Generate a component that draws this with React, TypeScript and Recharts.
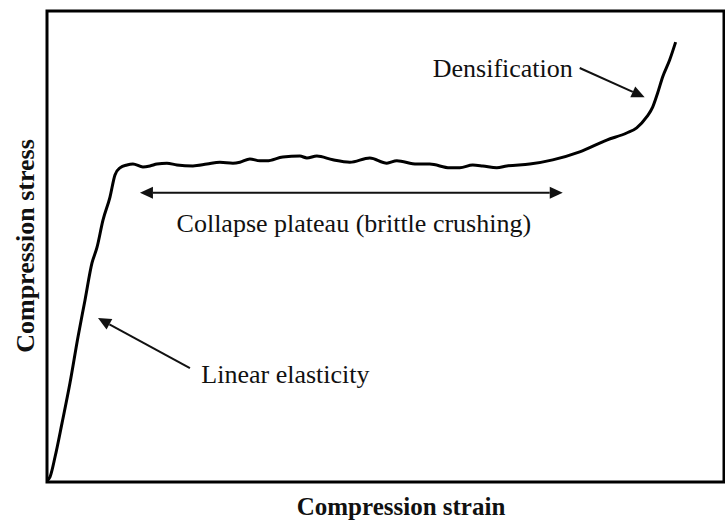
import { LineChart, Line, XAxis, YAxis, ReferenceArea, ReferenceLine, ReferenceDot } from "recharts";

// strain (% of axis) and stress (% of axis)
const strain = [
  0, 0.45, 1.19, 2.23, 3.41, 4.6, 5.64, 6.68, 7.42, 8.31, 9.35, 10.09, 10.83, 11.87, 12.76, 14.24, 15.28,
  16.32, 17.8, 19.29, 21.66, 23.74, 25.67, 27.6, 28.64, 30.12, 31.6, 32.64, 35.01, 37.54, 38.58, 40.06,
  42.43, 44.96, 47.92, 50.45, 51.93, 54.9, 56.82, 59.79, 61.28, 63.2, 64.69, 66.77, 68.25, 71.66, 75.07,
  79.08, 83.09, 86.05, 87.54, 89.02, 89.91, 90.65, 91.39, 92.43, 93.32,
];
const stress = [
  0.3, 1.1, 5.3, 12.5, 21.0, 30.8, 38.6, 46.5, 49.8, 55.6, 60.5, 65.2, 66.7, 67.3, 67.5, 66.9, 67.1,
  67.5, 67.7, 67.3, 67.1, 67.5, 67.9, 67.7, 67.9, 68.6, 68.2, 68.2, 69.0, 69.2, 68.8, 69.2,
  68.4, 67.9, 68.8, 67.7, 68.2, 67.5, 67.5, 66.7, 66.7, 67.3, 67.1, 66.7, 67.1, 67.5, 68.4,
  70.1, 72.6, 74.1, 75.2, 77.5, 79.6, 82.6, 86.0, 89.6, 93.4,
];

// annotation arrows: [tail, tip]
const densArrow = [{ x: 79.08, y: 87.9 }, { x: 88.72, y: 81.7 }];
const plateauArrow = [{ x: 13.8, y: 61.4 }, { x: 76.56, y: 61.4 }];
const elasticArrow = [{ x: 21.22, y: 24.2 }, { x: 7.57, y: 34.8 }];

const annotations = [
  { text: "Densification", x: 67.66, y: 86.0 },
  { text: "Collapse plateau (brittle crushing)", x: 45.55, y: 53.1 },
  { text: "Linear elasticity", x: 35.39, y: 21.0 },
];

const data = strain.map((s, i) => ({ strain: s, stress: stress[i] }));

const serif = "'Liberation Serif', 'Times New Roman', serif";

function makeArrow(both: boolean) {
  return (p: any) => {
    const { x1, y1, x2, y2 } = p;
    const len = 13;
    const half = 6;
    const dx = x2 - x1;
    const dy = y2 - y1;
    const d = Math.hypot(dx, dy) || 1;
    const ux = dx / d;
    const uy = dy / d;
    const head = (tx: number, ty: number, sx: number, sy: number) => {
      const bx = tx - sx * len;
      const by = ty - sy * len;
      return `${tx},${ty} ${bx - sy * half},${by + sx * half} ${bx + sy * half},${by - sx * half}`;
    };
    const startX = both ? x1 + ux * len : x1;
    const startY = both ? y1 + uy * len : y1;
    return (
      <g>
        <line x1={startX} y1={startY} x2={x2 - ux * len} y2={y2 - uy * len} stroke="#111" strokeWidth={2} />
        <polygon points={head(x2, y2, ux, uy)} fill="#111" />
        {both && <polygon points={head(x1, y1, -ux, -uy)} fill="#111" />}
      </g>
    );
  };
}

export default function App() {
  return (
    <div style={{ width: 725, height: 522, background: "#fff" }}>
      <style>{`body{margin:0}`}</style>
      <LineChart width={725} height={522} data={data} margin={{ top: 11, right: 1, bottom: 0, left: 0 }}>
        <XAxis
          dataKey="strain"
          type="number"
          domain={[0, 100.5]}
          tick={false}
          tickLine={false}
          axisLine={false}
          height={40}
          label={{
            content: () => (
              <text x={401} y={515} textAnchor="middle" fontFamily={serif} fontWeight={700} fontSize={25} fill="#111">
                Compression strain
              </text>
            ),
          }}
        />
        <YAxis
          type="number"
          domain={[0, 100]}
          tick={false}
          tickLine={false}
          axisLine={false}
          width={47}
          label={{
            content: () => (
              <text
                x={25}
                y={246}
                transform="rotate(-90 25 246)"
                textAnchor="middle"
                dominantBaseline="central"
                fontFamily={serif}
                fontWeight={700}
                fontSize={26}
                fill="#111"
              >
                Compression stress
              </text>
            ),
          }}
        />
        <ReferenceArea x1={0} x2={100.5} y1={0} y2={100} fill="none" stroke="#000" strokeWidth={3} ifOverflow="visible" />
        <Line
          dataKey="stress"
          type="monotone"
          stroke="#000"
          strokeWidth={3}
          dot={false}
          isAnimationActive={false}
          strokeLinejoin="round"
        />
        <ReferenceLine segment={densArrow} ifOverflow="visible" shape={makeArrow(false)} />
        <ReferenceLine segment={plateauArrow} ifOverflow="visible" shape={makeArrow(true)} />
        <ReferenceLine segment={elasticArrow} ifOverflow="visible" shape={makeArrow(false)} />
        {annotations.map((a) => (
          <ReferenceDot
            key={a.text}
            x={a.x}
            y={a.y}
            r={0}
            ifOverflow="visible"
            shape={(p: any) => (
              <text x={p.cx} y={p.cy} textAnchor="middle" fontFamily={serif} fontSize={26} fill="#111">
                {a.text}
              </text>
            )}
          />
        ))}
      </LineChart>
    </div>
  );
}
